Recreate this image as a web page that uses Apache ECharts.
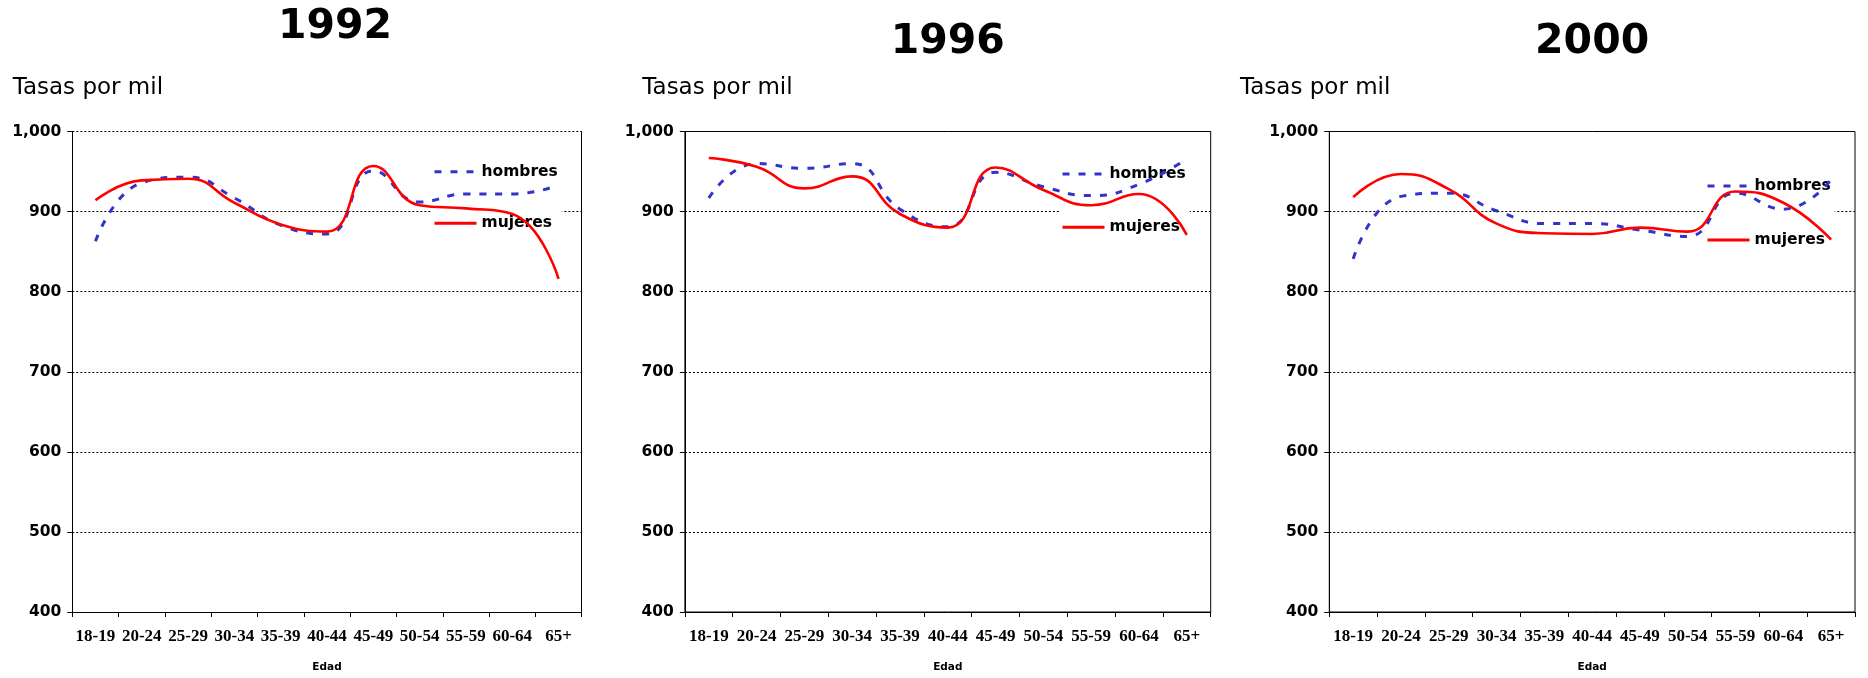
<!DOCTYPE html>
<html>
<head>
<meta charset="utf-8">
<script src="https://cdn.jsdelivr.net/npm/echarts@6/dist/echarts.min.js"></script>
<style>
  html, body { margin: 0; padding: 0; background: #fff; }
  #chart { width: 1868px; height: 678px; }
</style>
</head>
<body>
<div id="chart"></div>
<script>
// Age groups on the horizontal axis
const edades = ['18-19', '20-24', '25-29', '30-34', '35-39', '40-44', '45-49', '50-54', '55-59', '60-64', '65+'];
const anios = ['1992', '1996', '2000'];

// Rates per thousand, by sex and survey year
const hombres1992 = [863, 936, 943, 917, 883, 872, 951, 912, 922, 922, 933];
const mujeres1992 = [914, 939, 941, 911, 884, 875, 957, 908, 904, 897, 816];
const hombres1996 = [917, 960, 954, 960, 903, 881, 949, 931, 920, 934, 966];
const mujeres1996 = [967, 956, 929, 944, 897, 880, 955, 927, 908, 922, 871];
const hombres2000 = [841, 919, 923, 901, 885, 885, 877, 869, 923, 903, 940];
const mujeres2000 = [918, 947, 928, 885, 873, 872, 880, 875, 925, 911, 865];

// Value axis range
const yMin = 400, yMax = 1000, yStep = 100;

const seriesHombres = [hombres1992, hombres1996, hombres2000];
const seriesMujeres = [mujeres1992, mujeres1996, mujeres2000];

// Panel layout (pixels)
const layout = [
  { left: 72.3,   width: 509.4, titleY: 27.5, tasasX: 12.7,  legLeft: 431,  legTop: 157.7, legGap: 35.5, frame: false },
  { left: 684.9,  width: 525.8, titleY: 42,   tasasX: 642.3, legLeft: 1059, legTop: 160,   legGap: 37.3, frame: true },
  { left: 1329.3, width: 525.7, titleY: 42,   tasasX: 1240,  legLeft: 1704, legTop: 172,   legGap: 38,   frame: true }
];
const plotTop = 131.5, plotHeight = 481.8;

const BLUE = '#3333CC', RED = '#FF0000';
const sansBold = '"DejaVu Sans", Verdana, sans-serif';

const grids = [], xAxes = [], yAxes = [], series = [], legends = [], graphics = [];

layout.forEach((p, i) => {
  grids.push({
    left: p.left, top: plotTop, width: p.width, height: plotHeight,
    show: p.frame, borderColor: '#000', borderWidth: 1, backgroundColor: 'transparent'
  });

  xAxes.push({
    type: 'category', gridIndex: i, data: edades, boundaryGap: true,
    axisLine: { show: true, lineStyle: { color: '#000', width: 1 } },
    axisTick: { show: true, length: 5, interval: 0, lineStyle: { color: '#000' } },
    axisLabel: {
      interval: 0, margin: 16, color: '#000',
      fontFamily: '"Liberation Serif", "Times New Roman", serif', fontWeight: 'bold', fontSize: 17
    },
    splitLine: { show: false },
    name: 'Edad', nameLocation: 'middle', nameGap: 50,
    nameTextStyle: { fontFamily: sansBold, fontWeight: 'bold', fontSize: 10.5, color: '#000' }
  });

  yAxes.push({
    type: 'value', gridIndex: i, min: yMin, max: yMax, interval: yStep,
    axisLine: { show: true, lineStyle: { color: '#000', width: 1 } },
    axisTick: { show: true, length: 5, lineStyle: { color: '#000' } },
    axisLabel: {
      margin: 11, color: '#000', fontFamily: sansBold, fontWeight: 'bold', fontSize: 15.5,
      formatter: v => v.toLocaleString('en-US')
    },
    splitLine: { show: true, lineStyle: { color: '#000', width: 1, type: [2, 2] } }
  });

  series.push({
    type: 'line', name: 'hombres', xAxisIndex: i, yAxisIndex: i,
    data: seriesHombres[i], smooth: 0.5, symbol: 'none', showSymbol: false,
    lineStyle: { color: BLUE, width: 3, type: [7, 9] }, itemStyle: { color: BLUE }, z: 2
  });
  series.push({
    type: 'line', name: 'mujeres', xAxisIndex: i, yAxisIndex: i,
    data: seriesMujeres[i], smooth: 0.5, symbol: 'none', showSymbol: false,
    lineStyle: { color: RED, width: 2.6, type: 'solid' }, itemStyle: { color: RED }, z: 3
  });

  legends.push({
    data: ['hombres', 'mujeres'], orient: 'vertical', selectedMode: false,
    left: p.legLeft, top: p.legTop, padding: [6, 4, 6, 2], itemGap: p.legGap,
    itemWidth: 42, itemHeight: 14, backgroundColor: '#fff', z: 1,
    itemStyle: { color: 'transparent', borderWidth: 0, opacity: 0 },
    lineStyle: { width: 3 },
    textStyle: { fontFamily: sansBold, fontWeight: 'bold', fontSize: 15.5, color: '#000', lineHeight: 16 }
  });

  graphics.push({
    type: 'text', x: p.left + p.width / 2 + (i === 0 ? 8 : 0), y: p.titleY,
    style: {
      text: anios[i], font: 'bold 41px ' + sansBold, fill: '#000',
      align: 'center', verticalAlign: 'middle', textAlign: 'center', textVerticalAlign: 'middle'
    }
  });
  graphics.push({
    type: 'text', x: p.tasasX, y: 88,
    style: {
      text: 'Tasas por mil', font: '23px "DejaVu Sans", Verdana, sans-serif', fill: '#000',
      align: 'left', verticalAlign: 'middle', textAlign: 'left', textVerticalAlign: 'middle'
    }
  });
});

// Right-hand frame line of the first panel (its top edge stays dotted)
yAxes.push({
  type: 'value', gridIndex: 0, position: 'right', min: yMin, max: yMax, interval: yStep,
  axisLine: { show: true, lineStyle: { color: '#000', width: 1 } },
  axisTick: { show: false }, axisLabel: { show: false }, splitLine: { show: false }
});

const chart = echarts.init(document.getElementById('chart'), null, { renderer: 'canvas' });
chart.setOption({
  animation: false,
  backgroundColor: '#fff',
  grid: grids,
  xAxis: xAxes,
  yAxis: yAxes,
  legend: legends,
  series: series,
  graphic: graphics
});
</script>
</body>
</html>
